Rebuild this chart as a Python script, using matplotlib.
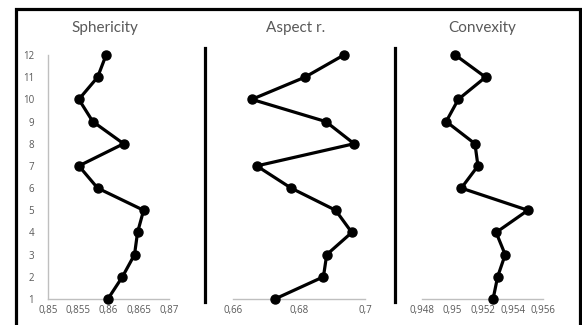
import matplotlib.pyplot as plt
from matplotlib.lines import Line2D

levels = list(range(1, 13))

sphericity = [0.8599, 0.8623, 0.8643, 0.8648, 0.8658, 0.8582,
              0.8551, 0.8625, 0.8574, 0.8551, 0.8582, 0.8596]
aspect = [0.6727, 0.6874, 0.6884, 0.6960, 0.6911, 0.6776,
          0.6672, 0.6967, 0.6881, 0.6657, 0.6818, 0.6936]
convexity = [0.9527, 0.9530, 0.9535, 0.9529, 0.9550, 0.9506,
             0.9517, 0.9515, 0.9496, 0.9504, 0.9522, 0.9502]

titles = ["Sphericity", "Aspect r.", "Convexity"]
sph_ticks = [0.85, 0.855, 0.86, 0.865, 0.87]
asp_ticks = [0.66, 0.68, 0.70]
cvx_ticks = [0.948, 0.95, 0.952, 0.954, 0.956]

W, H = 582, 325
GRAY = "#bfbfbf"
TXT = "#595959"

plt.rcParams['font.family'] = ['Lato', 'DejaVu Sans']

fig = plt.figure(figsize=(W / 100, H / 100), dpi=100)


def px_axes(x0, x1, y_top, y_bot):
    return fig.add_axes([x0 / W, 1 - y_bot / H, (x1 - x0) / W, (y_bot - y_top) / H])


def comma(v):
    s = f"{v:g}"
    return s.replace(".", ",")


panels = [
    (sphericity, sph_ticks, (48, 169), 105),
    (aspect, asp_ticks, (233, 365), 296),
    (convexity, cvx_ticks, (422, 543), 482),
]

for i, (vals, ticks, (x0, x1), tx) in enumerate(panels):
    ax = px_axes(x0, x1, 55, 299)
    ax.plot(vals, levels, color="black", lw=2.3, marker="o", ms=6.5,
            markerfacecolor="black", markeredgecolor="black", clip_on=False, zorder=3)
    ax.set_xlim(ticks[0], ticks[-1])
    ax.set_ylim(1, 12)
    ax.set_xticks(ticks)
    ax.set_xticklabels([comma(t) for t in ticks], family=['Open Sans', 'DejaVu Sans'])
    ax.tick_params(axis="x", length=0, pad=4, labelsize=7, labelcolor=TXT)
    for s in ["top", "right"]:
        ax.spines[s].set_visible(False)
    ax.spines["bottom"].set_color(GRAY)
    ax.spines["bottom"].set_linewidth(1.0)
    if i == 0:
        ax.set_yticks(levels)
        ax.set_yticklabels([str(v) for v in levels], family=['Open Sans', 'DejaVu Sans'])
        ax.tick_params(axis="y", length=0, pad=10, labelsize=7, labelcolor=TXT)
        ax.spines["left"].set_color(GRAY)
        ax.spines["left"].set_linewidth(1.0)
    else:
        ax.set_yticks([])
        ax.spines["left"].set_visible(False)
    fig.text(tx / W, 1 - 28 / H, titles[i], ha="center", va="center",
             fontsize=11, color=TXT)

# separators between panels
for sx in [205, 395]:
    fig.add_artist(Line2D([sx / W, sx / W], [1 - 48 / H, 1 - 302 / H],
                          lw=2.3, color="black"))

# outer frame (open at bottom)
fig.add_artist(Line2D([16 / W, 16 / W, 580 / W, 580 / W],
                      [0, 1 - 8.5 / H, 1 - 8.5 / H, 0],
                      lw=2.3, color="black", solid_joinstyle="miter"))

fig.savefig("out.png", dpi=100)
